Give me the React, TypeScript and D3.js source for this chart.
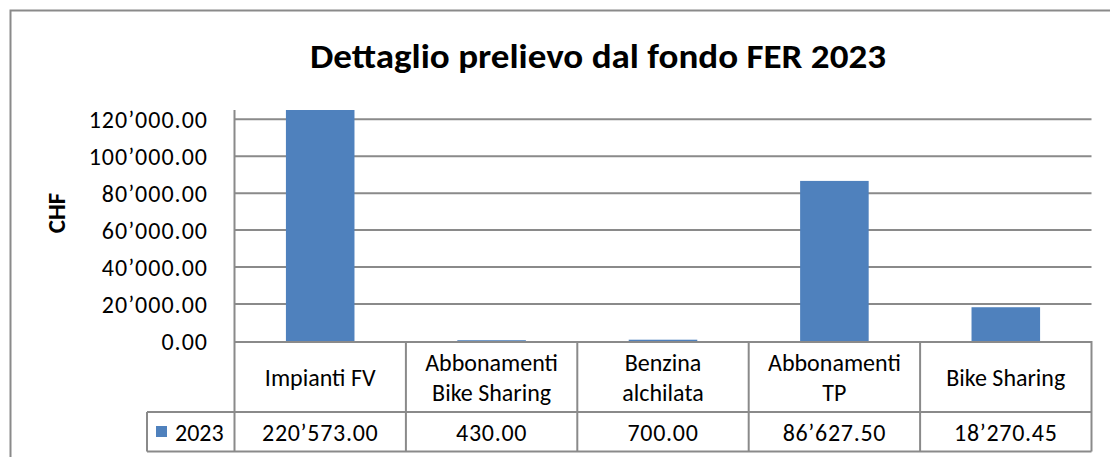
import React from "react";
import * as d3 from "d3";

const title = "Dettaglio prelievo dal fondo FER 2023";
const yAxisTitle = "CHF";
const seriesName = "2023";
const categories = [
  "Impianti FV",
  "Abbonamenti\nBike Sharing",
  "Benzina\nalchilata",
  "Abbonamenti\nTP",
  "Bike Sharing",
];
const values = [220573.0, 430.0, 700.0, 86627.5, 18270.45];
const yTicks = [0, 20000, 40000, 60000, 80000, 100000, 120000];
const yMax = 125000;

const W = 1110;
const H = 457;
const FONT = "Carlito, Calibri, 'Noto Sans', sans-serif";
const GRID = "#8a8a8a";
const BAR = "#4f81bd";

const fmt = (v: number) => d3.format(",.2f")(v).replace(/,/g, "\u2019");

export default function App() {
  const left = 234.5;
  const right = 1091.5;
  const top = 110;
  const bottom = 341;
  const rowMid = 412;
  const tableBottom = 451.5;
  const legendLeft = 147;

  const x = d3
    .scaleBand<string>()
    .domain(categories)
    .range([left, right])
    .paddingInner(0.6)
    .paddingOuter(0.3);
  const y = d3.scaleLinear().domain([0, yMax]).range([bottom, top]);
  const step = x.step();

  return (
    <svg width={W} height={H} style={{ display: "block", position: "absolute", left: 0, top: 0 }}>
      <rect x={0} y={0} width={W} height={H} fill="#fff" />
      {/* chart frame */}
      <path d={`M10.5,${H + 2} V10.5 H${W + 2}`} fill="none" stroke={GRID} strokeWidth={2} />
      <text
        x={598}
        y={68}
        textAnchor="middle"
        fontFamily={FONT}
        fontWeight="bold"
        fontSize={34}
        textLength={576}
        lengthAdjust="spacingAndGlyphs"
        fill="#000"
      >
        {title}
      </text>
      {/* y axis title */}
      <text
        transform={`translate(65,213) rotate(-90)`}
        textAnchor="middle"
        fontFamily={FONT}
        fontWeight="bold"
        fontSize={25}
        fill="#000"
      >
        {yAxisTitle}
      </text>
      {/* gridlines + tick labels */}
      {yTicks.map((t) => (
        <g key={t}>
          {t > 0 && (
            <line x1={left} x2={right} y1={y(t)} y2={y(t)} stroke={GRID} strokeWidth={2} />
          )}
          <text
            x={208}
            y={y(t)}
            dy="0.36em"
            textAnchor="end"
            fontFamily={FONT}
            fontSize={24}
            letterSpacing={1}
            fill="#000"
          >
            {fmt(t)}
          </text>
        </g>
      ))}
      <defs>
        <clipPath id="plotclip">
          <rect x={left} y={top} width={right - left} height={bottom - top} />
        </clipPath>
      </defs>
      <g clipPath="url(#plotclip)">
        {categories.map((c, i) => (
          <rect
            key={c}
            x={x(c)}
            y={y(values[i])}
            width={x.bandwidth()}
            height={bottom - y(values[i])}
            fill={BAR}
          />
        ))}
      </g>
      {/* y axis line */}
      <line x1={left} x2={left} y1={top} y2={tableBottom} stroke={GRID} strokeWidth={2} />
      {/* data table */}
      <line x1={left} x2={right} y1={bottom + 1} y2={bottom + 1} stroke={GRID} strokeWidth={2} />
      <line x1={legendLeft} x2={right} y1={rowMid} y2={rowMid} stroke={GRID} strokeWidth={2} />
      <line x1={legendLeft} x2={right} y1={tableBottom} y2={tableBottom} stroke={GRID} strokeWidth={2} />
      <line x1={legendLeft} x2={legendLeft} y1={rowMid} y2={tableBottom} stroke={GRID} strokeWidth={2} />
      {categories.map((c, i) => {
        const x1 = left + step * (i + 1);
        return (
          <line key={"v" + i} x1={x1} x2={x1} y1={bottom} y2={tableBottom} stroke={GRID} strokeWidth={2} />
        );
      })}
      {categories.map((c, i) => {
        const cx = left + step * (i + 0.5);
        const lines = c.split("\n");
        const lh = 30;
        const cy = (bottom + rowMid) / 2 + 1;
        return (
          <g key={"l" + i}>
            {lines.map((ln, j) => (
              <text
                key={j}
                x={cx}
                y={cy + (j - (lines.length - 1) / 2) * lh}
                dy="0.36em"
                textAnchor="middle"
                fontFamily={FONT}
                fontSize={24}
                fill="#000"
              >
                {ln}
              </text>
            ))}
            <text
              x={cx}
              y={(rowMid + tableBottom) / 2 + 1}
              dy="0.36em"
              textAnchor="middle"
              fontFamily={FONT}
              fontSize={24}
              letterSpacing={0.7}
              fill="#000"
            >
              {fmt(values[i])}
            </text>
          </g>
        );
      })}
      {/* legend key */}
      <rect x={156} y={426} width={11} height={11} fill={BAR} />
      <text
        x={175}
        y={(rowMid + tableBottom) / 2 + 1}
        dy="0.36em"
        fontFamily={FONT}
        fontSize={24}
        fill="#000"
      >
        {seriesName}
      </text>
    </svg>
  );
}
